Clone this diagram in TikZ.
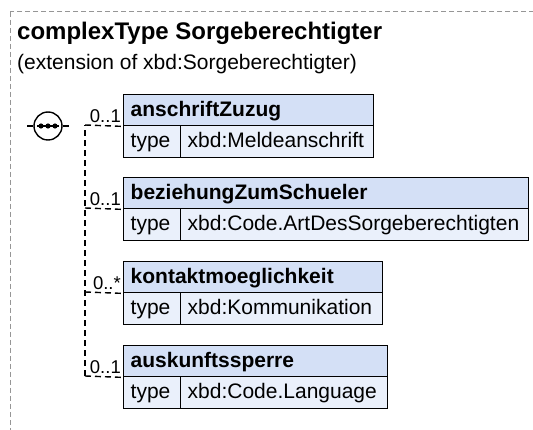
\documentclass[tikz,border=0pt]{standalone}
\usepackage{fontspec}
\setmainfont{Liberation Sans}
\definecolor{hdrblue}{RGB}{212,224,246}
\definecolor{rowblue}{RGB}{234,240,251}
\definecolor{framegray}{RGB}{150,150,150}
\tikzset{
  boxline/.style={draw=black, line width=1.4pt},
  hdr/.style={boxline, fill=hdrblue, anchor=north west, minimum height=31pt,
    inner xsep=7pt, inner ysep=0pt, align=left,
    font=\fontsize{21}{24}\selectfont\bfseries, text height=16pt, text depth=4pt},
  rowcell/.style={boxline, fill=rowblue, anchor=north west, minimum height=32pt,
    inner xsep=7pt, inner ysep=0pt, align=left,
    font=\fontsize{21}{24}\selectfont, text height=16pt, text depth=4pt},
  conn/.style={draw=black, line width=1.4pt, dash pattern=on 6pt off 4pt},
  stub/.style={draw=black, line width=1.4pt},
  mult/.style={anchor=south east, inner sep=0pt, font=\fontsize{18.5}{21}\selectfont},
  framebox/.style={draw=framegray, line width=1pt, dash pattern=on 5pt off 3pt},
}
\begin{document}
\begin{tikzpicture}[x=1pt, y=-1pt]
\useasboundingbox (0,0) rectangle (533,430);
\clip (0,0) rectangle (533,430);
\draw[framebox] (10,12) rectangle (560,460);

\node[anchor=base west, inner sep=0pt, font=\fontsize{24}{28}\selectfont\bfseries] (title) at (17,40) {complexType Sorgeberechtigter};
\node[anchor=base west, inner sep=0pt, font=\fontsize{21}{24}\selectfont] (sub) at (17,70) {(extension of xbd:Sorgeberechtigter)};

% sequence compositor
\node[circle, draw=black, line width=1.4pt, fill=white, minimum size=28pt, inner sep=0pt] (seq) at (48,126) {};
\draw[line width=1.4pt] (seq.center) ++(-11,0) -- ++(22,0);
\fill (seq.center) ++(-7,0) circle (2.6);
\fill (seq.center) circle (2.6);
\fill (seq.center) ++(7,0) circle (2.6);
\coordinate (inL) at (27,126);
\coordinate (outR) at (69,126);
\draw[stub] (inL) -- (seq.west);
\draw[stub] (seq.east) -- (outR);

% element 1
\node[hdr, minimum width=250pt, text width=236pt] (h1) at (123,94) {anschriftZuzug};
\node[rowcell, minimum width=57pt, text width=43pt] (t1) at (123,125) {type};
\node[rowcell, minimum width=193pt, text width=179pt] (v1) at (180,125) {xbd:Meldeanschrift};
% element 2
\node[hdr, minimum width=405pt, text width=391pt] (h2) at (123,177) {beziehungZumSchueler};
\node[rowcell, minimum width=57pt, text width=43pt] (t2) at (123,208) {type};
\node[rowcell, minimum width=348pt, text width=334pt] (v2) at (180,208) {xbd:Code.ArtDesSorgeberechtigten};
% element 3
\node[hdr, minimum width=259pt, text width=245pt] (h3) at (123,261) {kontaktmoeglichkeit};
\node[rowcell, minimum width=57pt, text width=43pt] (t3) at (123,292) {type};
\node[rowcell, minimum width=202pt, text width=188pt] (v3) at (180,292) {xbd:Kommunikation};
% element 4
\node[hdr, minimum width=264pt, text width=250pt] (h4) at (123,345) {auskunftssperre};
\node[rowcell, minimum width=57pt, text width=43pt] (t4) at (123,376) {type};
\node[rowcell, minimum width=207pt, text width=193pt] (v4) at (180,376) {xbd:Code.Language};

% connectors
\coordinate (j1) at (85,125);
\coordinate (j2) at (85,208);
\coordinate (j3) at (85,292);
\coordinate (j4) at (85,376);
\draw[conn] (j4) -- (j1);
\draw[conn] (j1) -- (h1.south west);
\draw[conn] (j2) -- (h2.south west);
\draw[conn] (j3) -- (h3.south west);
\draw[conn] (j4) -- (h4.south west);

\node[mult] (m1) at (121,123) {0..1};
\node[mult] (m2) at (121,206) {0..1};
\node[mult] (m3) at (121,290) {0..*};
\node[mult] (m4) at (121,374) {0..1};
\end{tikzpicture}
\end{document}
